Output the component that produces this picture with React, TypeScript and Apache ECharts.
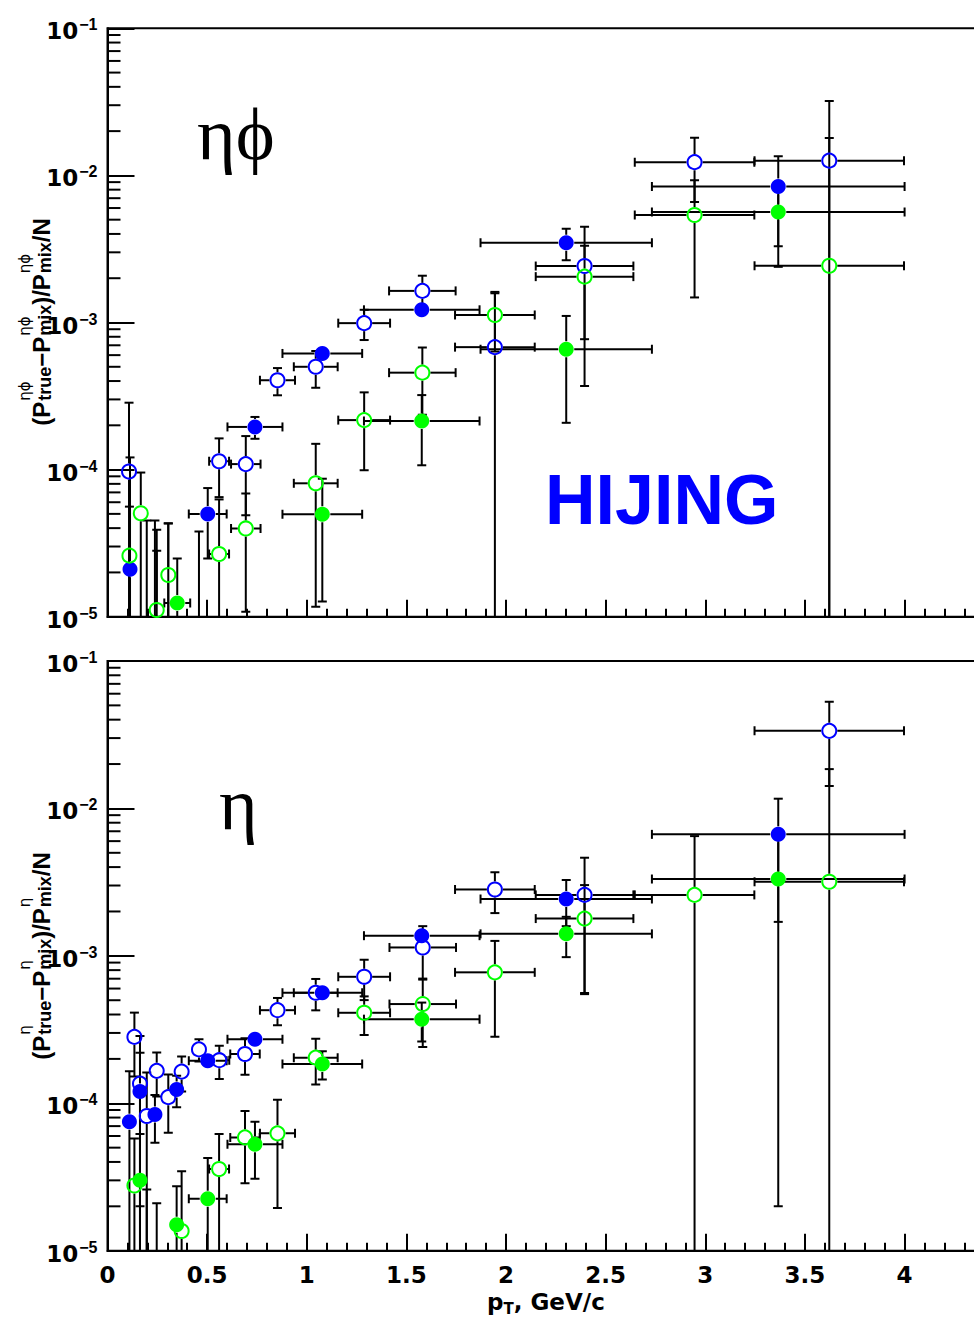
import React, { useEffect, useRef } from "react";
import * as echarts from "echarts";

// each point: [pT, value, pT half-width, value error]
type Pt = [number, number, number, number];

// ---------- upper panel (eta-phi) ----------
const etaPhiOpenBlue: Pt[] = [
  [0.108, 9.7e-5, 0.01, 1.88e-4],
  [0.197, 4e-6, 0.015, 4.1e-5],
  [0.247, 5e-6, 0.02, 3.4e-5],
  [0.305, 5e-6, 0.025, 3.8e-5],
  [0.459, 5e-6, 0.04, 3.3e-5],
  [0.56, 1.14e-4, 0.05, 4.9e-5],
  [0.694, 1.09e-4, 0.074, 6.0e-5],
  [0.853, 4.05e-4, 0.088, 8.5e-5],
  [1.045, 5.0e-4, 0.11, 1.4e-4],
  [1.288, 9.9e-4, 0.13, 2.3e-4],
  [1.58, 1.64e-3, 0.167, 4.4e-4],
  [1.944, 6.8e-4, 0.2, 9.0e-4],
  [2.394, 2.42e-3, 0.245, 2.05e-3],
  [2.946, 1.23e-2, 0.3, 5.7e-3],
  [3.622, 1.26e-2, 0.375, 1.95e-2],
];
const etaPhiFilledBlue: Pt[] = [
  [0.113, 2.1e-5, 0.01, 1.0e-4],
  [0.238, 4e-6, 0.015, 4.1e-5],
  [0.503, 4.99e-5, 0.095, 2.5e-5],
  [0.74, 1.95e-4, 0.138, 3.3e-5],
  [1.078, 6.16e-4, 0.2, 4.0e-5],
  [1.577, 1.22e-3, 0.29, 1.0e-4],
  [2.302, 3.49e-3, 0.43, 8.4e-4],
  [3.366, 8.4e-3, 0.634, 5.1e-3],
];
const etaPhiOpenGreen: Pt[] = [
  [0.11, 2.6e-5, 0.01, 3.0e-5],
  [0.167, 5.05e-5, 0.01, 4.5e-5],
  [0.247, 1.11e-5, 0.015, 1.7e-5],
  [0.305, 1.92e-5, 0.02, 2.4e-5],
  [0.56, 2.67e-5, 0.05, 3.6e-5],
  [0.694, 3.98e-5, 0.074, 2.9e-5],
  [1.045, 8.07e-5, 0.11, 6.9e-5],
  [1.288, 2.17e-4, 0.13, 1.18e-4],
  [1.58, 4.56e-4, 0.167, 2.2e-4],
  [1.944, 1.125e-3, 0.2, 4.9e-4],
  [2.394, 2.05e-3, 0.245, 1.28e-3],
  [2.946, 5.38e-3, 0.3, 3.9e-3],
  [3.622, 2.43e-3, 0.375, 1.55e-2],
];
const etaPhiFilledGreen: Pt[] = [
  [0.35, 1.24e-5, 0.065, 1.25e-5],
  [1.078, 4.97e-5, 0.2, 3.7e-5],
  [1.577, 2.14e-4, 0.29, 1.07e-4],
  [2.302, 6.58e-4, 0.43, 4.5e-4],
  [3.366, 5.64e-3, 0.634, 3.25e-3],
];

// ---------- lower panel (eta) ----------
const etaOpenBlue: Pt[] = [
  [0.135, 2.82e-4, 0.01, 1.3e-4],
  [0.163, 1.36e-4, 0.01, 1.5e-4],
  [0.197, 8.2e-5, 0.015, 8.0e-5],
  [0.247, 1.66e-4, 0.02, 5.5e-5],
  [0.305, 1.1e-4, 0.025, 4.7e-5],
  [0.372, 1.64e-4, 0.03, 4.4e-5],
  [0.459, 2.32e-4, 0.04, 4.0e-5],
  [0.561, 1.96e-4, 0.05, 5.0e-5],
  [0.69, 2.16e-4, 0.074, 6.0e-5],
  [0.853, 4.28e-4, 0.088, 9.0e-5],
  [1.045, 5.62e-4, 0.11, 1.35e-4],
  [1.288, 7.21e-4, 0.13, 2.2e-4],
  [1.582, 1.14e-3, 0.167, 4.5e-4],
  [1.944, 2.82e-3, 0.2, 8.7e-4],
  [2.394, 2.59e-3, 0.245, 2.04e-3],
  [3.622, 3.36e-2, 0.375, 1.94e-2],
];
const etaFilledBlue: Pt[] = [
  [0.11, 7.5e-5, 0.01, 9.0e-5],
  [0.163, 1.2e-4, 0.01, 1.0e-4],
  [0.238, 8.4e-5, 0.015, 3.0e-5],
  [0.347, 1.24e-4, 0.02, 3.0e-5],
  [0.503, 1.94e-4, 0.095, 2.0e-5],
  [0.74, 2.72e-4, 0.138, 2.5e-5],
  [1.078, 5.62e-4, 0.2, 6.0e-5],
  [1.577, 1.37e-3, 0.29, 1.5e-4],
  [2.302, 2.43e-3, 0.43, 8.4e-4],
  [3.366, 6.67e-3, 0.634, 4.97e-3],
];
const etaOpenGreen: Pt[] = [
  [0.135, 2.77e-5, 0.01, 3.0e-5],
  [0.197, 4e-6, 0.015, 2.2e-5],
  [0.247, 4e-6, 0.02, 1.7e-5],
  [0.372, 1.36e-5, 0.03, 2.1e-5],
  [0.56, 3.58e-5, 0.05, 2.6e-5],
  [0.69, 5.87e-5, 0.074, 3.0e-5],
  [0.853, 6.25e-5, 0.088, 4.3e-5],
  [1.045, 2.04e-4, 0.11, 7.0e-5],
  [1.288, 4.11e-4, 0.13, 1.2e-4],
  [1.582, 4.71e-4, 0.167, 2.3e-4],
  [1.944, 7.73e-4, 0.2, 4.9e-4],
  [2.394, 1.79e-3, 0.245, 1.23e-3],
  [2.946, 2.59e-3, 0.3, 3.9e-3],
  [3.622, 3.18e-3, 0.375, 1.53e-2],
];
const etaFilledGreen: Pt[] = [
  [0.163, 3.0e-5, 0.01, 3.2e-5],
  [0.347, 1.5e-5, 0.02, 1.24e-5],
  [0.503, 2.25e-5, 0.095, 2.0e-5],
  [0.74, 5.28e-5, 0.138, 2.2e-5],
  [1.078, 1.85e-4, 0.2, 4.0e-5],
  [1.577, 3.72e-4, 0.29, 1.1e-4],
  [2.302, 1.41e-3, 0.43, 4.3e-4],
  [3.366, 3.32e-3, 0.634, 3.3e-3],
];

// axis ranges / ticks
const Y_MIN = 1e-5;
const Y_MAX = 1e-1;
const X_MIN = 0;
const X_MAX = 4.4;
const X_INTERVAL = 0.5;
const decadeExponents = [-5, -4, -3, -2];
const minorMultipliers = [2, 3, 4, 5, 6, 7, 8, 9];
const minorTickValues: number[] = [];
decadeExponents.forEach((e) =>
  minorMultipliers.forEach((m) => minorTickValues.push(m * Math.pow(10, e)))
);

const BLUE = "#0000ff";
const GREEN = "#00ff00";
const NUM_FONT = "DejaVu Sans";
const SANS = "Liberation Sans";

const GRID_LEFT = 107.5;
const GRID_WIDTH = 876.8;
const GRIDS = [
  { top: 28.3, height: 588.4 },
  { top: 661, height: 589.7 },
];

function errorBarRender(params: any, api: any) {
  const x = api.value(0);
  const y = api.value(1);
  const ex = api.value(2);
  const ey = api.value(3);
  const cs = params.coordSys;
  const top = cs.y;
  const bottom = cs.y + cs.height;
  const c = api.coord([x, y]);
  const cx = c[0];
  const cy = c[1];
  const xl = api.coord([x - ex, y])[0];
  const xr = api.coord([x + ex, y])[0];
  const hiV = y + ey;
  const loV = y - ey;
  const pHi = hiV >= Y_MAX ? top - 3 : api.coord([x, hiV])[1];
  const pLo = loV <= Y_MIN ? bottom + 3 : api.coord([x, loV])[1];
  const R = 8;
  const C = 4.5;
  const segs: number[][] = [];
  if (cx - R > xl) {
    segs.push([xl, cy, cx - R, cy]);
    segs.push([xl, cy - C, xl, cy + C]);
  }
  if (xr > cx + R) {
    segs.push([cx + R, cy, xr, cy]);
    segs.push([xr, cy - C, xr, cy + C]);
  }
  if (pHi < cy - R) {
    segs.push([cx, cy - R, cx, pHi]);
    if (hiV < Y_MAX) segs.push([cx - C, pHi, cx + C, pHi]);
  }
  if (pLo > cy + R) {
    segs.push([cx, cy + R, cx, pLo]);
    if (loV > Y_MIN) segs.push([cx - C, pLo, cx + C, pLo]);
  }
  return {
    type: "group",
    children: segs.map((s) => ({
      type: "line",
      shape: { x1: s[0], y1: s[1], x2: s[2], y2: s[3] },
      style: { stroke: "#000", lineWidth: 2 },
    })),
  };
}

function minorTickRender(params: any, api: any) {
  const p = api.coord([X_MIN, api.value(1)]);
  return {
    type: "line",
    shape: { x1: p[0], y1: p[1], x2: p[0] + 13, y2: p[1] },
    style: { stroke: "#000", lineWidth: 2 },
  };
}

function pointSeries(pts: Pt[], gi: number, color: string, filled: boolean) {
  return [
    {
      type: "custom",
      xAxisIndex: gi,
      yAxisIndex: gi,
      clip: true,
      silent: true,
      renderItem: errorBarRender,
      encode: { x: 0, y: 1 },
      data: pts.map((p) => [p[0], p[1], p[2], p[3]]),
    },
    {
      type: "scatter",
      xAxisIndex: gi,
      yAxisIndex: gi,
      clip: true,
      silent: true,
      symbol: "circle",
      symbolSize: filled ? 15 : 14,
      itemStyle: filled
        ? { color, borderWidth: 0, opacity: 1 }
        : { color: "rgba(0,0,0,0)", borderColor: color, borderWidth: 2, opacity: 1 },
      emphasis: { disabled: true },
      data: pts.map((p) => [p[0], p[1]]),
    },
  ];
}

const MAIN_SIZE = 24;
const SUB_SIZE = 18;
const SUP_SIZE = 15;

const measureCtx =
  typeof document !== "undefined"
    ? document.createElement("canvas").getContext("2d")
    : null;
function textWidth(text: string, weight: string, size: number, family: string) {
  if (!measureCtx) return text.length * size * 0.6;
  measureCtx.font = `${weight} ${size}px "${family}"`;
  return measureCtx.measureText(text).width;
}

function yTitle(sup: string, cx: number, cy: number) {
  const parts: { main?: string; sup?: string; sub?: string }[] = [
    { main: "(P" },
    { sup, sub: "true" },
    { main: "\u2212P" },
    { sup, sub: "mix" },
    { main: ")/P" },
    { sup, sub: "mix" },
    { main: "/N" },
  ];
  const widths = parts.map((p) =>
    p.main
      ? textWidth(p.main, "bold", MAIN_SIZE, SANS)
      : Math.max(
          textWidth(p.sup!, "normal", SUP_SIZE, "DejaVu Sans"),
          textWidth(p.sub!, "bold", SUB_SIZE, SANS)
        ) + 1
  );
  const total = widths.reduce((a, b) => a + b, 0);
  let x = -total / 2;
  const children: any[] = [];
  parts.forEach((p, i) => {
    if (p.main) {
      children.push({
        type: "text",
        x,
        y: 0,
        style: {
          text: p.main,
          fontFamily: SANS,
          fontSize: MAIN_SIZE,
          fontWeight: "bold",
          fill: "#000",
          align: "left",
          verticalAlign: "middle",
        },
      });
    } else {
      children.push({
        type: "text",
        x: x + 1,
        y: -16,
        style: {
          text: p.sup,
          fontFamily: "DejaVu Sans",
          fontSize: SUP_SIZE,
          fontWeight: "normal",
          fill: "#000",
          align: "left",
          verticalAlign: "middle",
        },
      });
      children.push({
        type: "text",
        x: x + 1,
        y: 4,
        style: {
          text: p.sub,
          fontFamily: SANS,
          fontSize: SUB_SIZE,
          fontWeight: "bold",
          fill: "#000",
          align: "left",
          verticalAlign: "middle",
        },
      });
    }
    x += widths[i];
  });
  return { type: "group", x: cx, y: cy, rotation: Math.PI / 2, silent: true, children };
}

function xAxisFor(gi: number) {
  return {
    type: "value",
    gridIndex: gi,
    min: X_MIN,
    max: X_MAX,
    interval: X_INTERVAL,
    axisLine: { show: true, lineStyle: { color: "#000", width: 2 } },
    axisTick: { show: true, inside: true, length: 17, lineStyle: { color: "#000", width: 2 } },
    minorTick: { show: true, splitNumber: 5, length: 8, lineStyle: { color: "#000", width: 2 } },
    splitLine: { show: false },
    minorSplitLine: { show: false },
    axisLabel:
      gi === 1
        ? {
            show: true,
            margin: 13,
            showMaxLabel: false,
            color: "#000",
            fontFamily: NUM_FONT,
            fontWeight: "bold",
            fontSize: 23,
          }
        : { show: false },
    name: gi === 1 ? "{b|p}{s|T}{b|, GeV/c}" : "",
    nameLocation: "middle",
    nameGap: 42,
    nameTextStyle: {
      rich: {
        b: { fontFamily: NUM_FONT, fontWeight: "bold", fontSize: 23, lineHeight: 24, padding: [0, 0, 6, 0], color: "#000" },
        s: { fontFamily: NUM_FONT, fontWeight: "bold", fontSize: 15, lineHeight: 15, verticalAlign: "bottom", color: "#000" },
      },
    },
  };
}

function yAxisFor(gi: number) {
  return {
    type: "log",
    logBase: 10,
    gridIndex: gi,
    min: Y_MIN,
    max: Y_MAX,
    axisLine: { show: true, lineStyle: { color: "#000", width: 2 } },
    axisTick: { show: true, inside: true, length: 27, lineStyle: { color: "#000", width: 2 } },
    splitLine: { show: false },
    minorTick: { show: false },
    axisLabel: {
      show: true,
      margin: 10,
      formatter: (v: number) => {
        const e = Math.round(Math.log10(v));
        return `{b|10}{s|\u2212${-e}}`;
      },
      rich: {
        b: { fontFamily: NUM_FONT, fontWeight: "bold", fontSize: 23, lineHeight: 23, padding: [11, 0, 5, 0], color: "#000" },
        s: { fontFamily: SANS, fontWeight: "bold", fontSize: 16, lineHeight: 16, verticalAlign: "top", padding: [0, 0, 0, 1], color: "#000" },
      },
    },
  };
}

export default function App() {
  const ref = useRef<HTMLDivElement>(null);

  useEffect(() => {
    document.body.style.margin = "0";
    if (!ref.current) return;
    const chart = echarts.init(ref.current, null, { renderer: "svg" });

    const series: any[] = [];
    [0, 1].forEach((gi) => {
      series.push({
        type: "custom",
        xAxisIndex: gi,
        yAxisIndex: gi,
        silent: true,
        renderItem: minorTickRender,
        encode: { x: 0, y: 1 },
        data: minorTickValues.map((v) => [X_MIN, v]),
      });
    });
    series.push(...pointSeries(etaPhiOpenBlue, 0, BLUE, false));
    series.push(...pointSeries(etaPhiFilledBlue, 0, BLUE, true));
    series.push(...pointSeries(etaPhiOpenGreen, 0, GREEN, false));
    series.push(...pointSeries(etaPhiFilledGreen, 0, GREEN, true));
    series.push(...pointSeries(etaOpenBlue, 1, BLUE, false));
    series.push(...pointSeries(etaFilledBlue, 1, BLUE, true));
    series.push(...pointSeries(etaOpenGreen, 1, GREEN, false));
    series.push(...pointSeries(etaFilledGreen, 1, GREEN, true));

    const serif = "Liberation Serif";
    const option: any = {
      animation: false,
      backgroundColor: "#fff",
      grid: GRIDS.map((g) => ({
        left: GRID_LEFT,
        top: g.top,
        width: GRID_WIDTH,
        height: g.height,
        show: true,
        borderColor: "#000",
        borderWidth: 2,
        containLabel: false,
      })),
      xAxis: [xAxisFor(0), xAxisFor(1)],
      yAxis: [yAxisFor(0), yAxisFor(1)],
      series,
      graphic: [
        {
          type: "text",
          x: 197,
          y: 134,
          silent: true,
          style: { text: "\u03b7\u03d5", fontFamily: serif, fontSize: 74, fill: "#000", align: "left", verticalAlign: "middle" },
        },
        {
          type: "text",
          x: 219,
          y: 804,
          silent: true,
          style: { text: "\u03b7", fontFamily: serif, fontSize: 74, fill: "#000", align: "left", verticalAlign: "middle" },
        },
        {
          type: "text",
          x: 545,
          y: 500,
          silent: true,
          style: { text: "HIJING", fontFamily: SANS, fontWeight: "bold", fontSize: 70, fill: BLUE, align: "left", verticalAlign: "middle" },
        },
        yTitle("\u03b7\u03d5", 41, 322),
        yTitle("\u03b7", 41, 956),
      ],
    };
    chart.setOption(option);
    return () => chart.dispose();
  }, []);

  return (
    <div style={{ position: "absolute", left: 0, top: 0, width: 974, height: 1323, overflow: "hidden", background: "#fff" }}>
      <div ref={ref} style={{ width: 1000, height: 1323 }} />
    </div>
  );
}
